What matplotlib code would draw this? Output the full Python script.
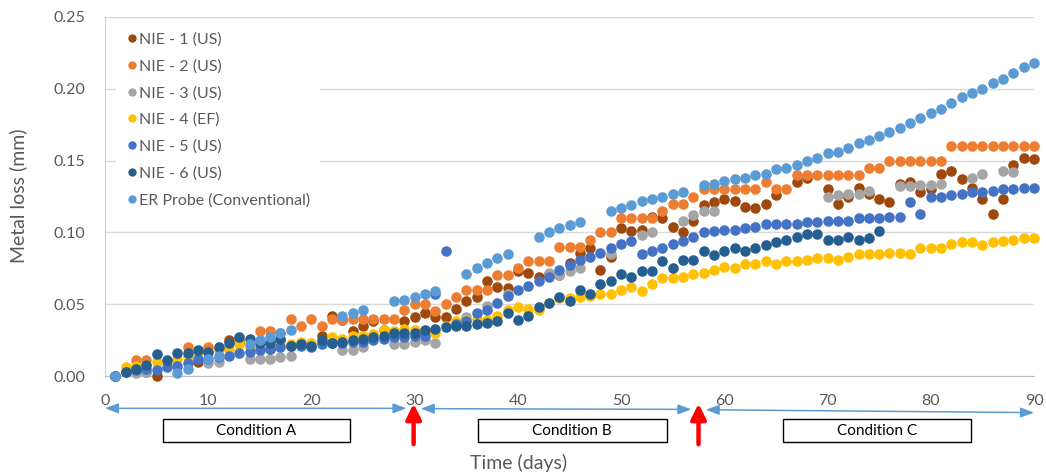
import numpy as np
import matplotlib
matplotlib.use("Agg")
import matplotlib.pyplot as plt
from matplotlib.lines import Line2D
from matplotlib.patches import Rectangle

plt.rcParams['font.family'] = ['Lato', 'DejaVu Sans']

# ---- data ----
days = list(range(1, 91))

series_names = ['NIE - 1 (US)', 'NIE - 2 (US)', 'NIE - 3 (US)', 'NIE - 4 (EF)',
                'NIE - 5 (US)', 'NIE - 6 (US)', 'ER Probe (Conventional)']
series_colors = ['#9E480E', '#ED7D31', '#A5A5A5', '#FFC000',
                 '#4472C4', '#255E91', '#5B9BD5']

nie1 = [0.000, None, 0.003, 0.003, 0.000, None, None, None, 0.010, None,
        None, 0.025, 0.024, None, None, 0.019, 0.025, None, None, None,
        0.028, 0.042, 0.039, 0.031, 0.035, 0.038, 0.032, None, 0.038, 0.041,
        0.044, 0.041, 0.041, 0.047, 0.052, 0.055, 0.066, 0.062, 0.061, 0.073,
        0.072, 0.069, 0.071, 0.070, 0.079, 0.086, 0.089, 0.074, 0.083, 0.103,
        0.101, 0.102, 0.111, 0.110, 0.104, 0.100, 0.108, 0.119, 0.121, 0.123,
        0.122, 0.118, 0.117, 0.120, 0.126, None, 0.135, 0.138, None, 0.130,
        0.120, 0.125, 0.131, 0.127, 0.123, 0.121, 0.134, 0.135, 0.128, 0.130,
        0.141, 0.143, 0.137, 0.131, 0.123, 0.113, 0.123, 0.147, 0.152, 0.151]

nie2 = [0.000, None, 0.011, 0.011, None, None, None, 0.020, None, 0.020,
        0.019, None, 0.025, None, 0.031, 0.031, 0.030, 0.040, 0.035, 0.040,
        0.035, 0.040, 0.039, 0.040, 0.040, 0.040, 0.040, 0.040, 0.046, 0.050,
        0.050, 0.045, 0.050, 0.055, 0.060, 0.060, 0.060, 0.070, 0.070, 0.075,
        0.080, 0.080, 0.080, 0.090, 0.090, 0.090, 0.095, 0.100, 0.100, 0.110,
        0.110, 0.110, 0.110, 0.115, 0.120, 0.120, 0.125, 0.130, 0.130, 0.130,
        0.130, 0.130, 0.130, 0.135, 0.130, 0.130, 0.140, 0.140, 0.140, 0.140,
        0.140, 0.140, 0.140, 0.145, 0.145, 0.150, 0.150, 0.150, 0.150, 0.150,
        0.150, 0.160, 0.160, 0.160, 0.160, 0.160, 0.160, 0.160, 0.160, 0.160]

nie3 = [0.000, None, 0.002, 0.003, None, None, None, None, None, 0.009,
        0.010, None, None, 0.012, 0.012, 0.012, 0.013, 0.014, None, None,
        None, None, 0.018, 0.018, 0.020, None, None, 0.022, 0.022, 0.024,
        0.025, 0.023, None, None, 0.041, None, 0.049, None, 0.057, None,
        None, None, 0.072, 0.070, 0.073, 0.075, None, None, 0.085, None,
        None, 0.098, 0.100, None, None, 0.108, 0.112, 0.115, 0.115, None,
        None, None, None, None, None, None, None, None, None, 0.125,
        0.126, 0.127, 0.127, 0.129, None, None, 0.132, 0.132, 0.133, 0.133,
        0.134, None, None, 0.138, 0.141, None, 0.143, 0.142, None, None]

nie4 = [0.000, 0.006, 0.007, 0.008, 0.010, 0.010, 0.012, 0.014, 0.016, 0.017,
        0.018, 0.019, 0.022, 0.020, 0.021, 0.022, 0.022, 0.022, 0.024, 0.023,
        0.024, 0.027, 0.026, 0.028, 0.028, 0.029, 0.032, 0.031, 0.033, 0.032,
        0.032, 0.030, 0.035, 0.038, 0.039, 0.040, 0.039, 0.042, 0.046, 0.048,
        0.047, 0.046, 0.051, 0.054, 0.054, 0.055, 0.056, 0.057, 0.057, 0.060,
        0.062, 0.059, 0.064, 0.068, 0.068, 0.069, 0.071, 0.072, 0.074, 0.076,
        0.075, 0.078, 0.078, 0.080, 0.078, 0.080, 0.080, 0.081, 0.082, 0.082,
        0.081, 0.083, 0.085, 0.085, 0.085, 0.086, 0.086, 0.085, 0.089, 0.089,
        0.089, 0.092, 0.093, 0.093, 0.091, 0.093, 0.094, 0.095, 0.096, 0.096]

nie5 = [0.000, 0.003, 0.004, 0.005, 0.004, 0.006, 0.007, 0.009, 0.012, 0.012,
        0.013, 0.014, 0.016, 0.017, 0.018, 0.019, 0.020, 0.021, 0.021, 0.020,
        0.022, 0.023, 0.023, 0.024, 0.024, 0.025, 0.026, 0.027, 0.027, 0.028,
        0.028, 0.057, 0.087, 0.036, 0.038, 0.044, 0.046, 0.051, 0.056, 0.060,
        0.063, 0.066, 0.069, 0.074, 0.077, 0.081, 0.083, 0.086, 0.089, 0.092,
        0.094, 0.085, 0.087, 0.089, 0.092, 0.094, 0.097, 0.100, 0.101, 0.102,
        0.102, 0.103, 0.104, 0.106, 0.106, 0.106, 0.106, 0.107, 0.107, 0.108,
        0.108, 0.108, 0.110, 0.110, 0.110, 0.111, 0.111, 0.121, 0.113, 0.125,
        0.125, 0.126, 0.127, 0.128, 0.128, 0.129, 0.130, 0.130, 0.131, 0.131]

nie6 = [0.000, 0.003, 0.005, 0.008, 0.015, 0.011, 0.016, 0.016, 0.018, 0.017,
        0.020, 0.023, 0.027, 0.026, 0.023, 0.023, 0.026, 0.021, 0.022, 0.021,
        0.025, 0.023, 0.024, 0.025, 0.026, 0.027, 0.028, 0.030, 0.030, 0.030,
        0.032, 0.033, 0.034, 0.035, 0.035, 0.036, 0.037, 0.038, 0.044, 0.039,
        0.042, 0.048, 0.051, 0.055, 0.052, 0.060, 0.057, 0.064, 0.066, 0.071,
        0.069, 0.073, 0.073, 0.080, 0.075, 0.081, 0.081, 0.087, 0.084, 0.087,
        0.089, 0.087, 0.089, 0.091, 0.093, 0.095, 0.097, 0.099, 0.099, 0.095,
        0.095, 0.097, 0.095, 0.096, 0.101, None, None, None, None, None,
        None, None, None, None, None, None, None, None, None, None]

er_probe = [0.000, None, None, None, None, None, 0.002, 0.005, None, 0.012,
            0.014, None, None, 0.022, 0.025, 0.027, 0.030, 0.032, None, None,
            None, None, 0.042, 0.044, 0.046, None, None, 0.052, 0.053, 0.055,
            0.057, 0.059, None, None, 0.071, 0.075, 0.079, 0.082, 0.085, None,
            None, 0.097, 0.100, 0.103, 0.105, 0.107, None, None, 0.115, 0.117,
            0.119, 0.122, 0.123, 0.125, 0.127, 0.128, None, 0.133, 0.134, 0.136,
            0.137, 0.138, 0.140, 0.141, 0.144, 0.145, 0.147, 0.150, 0.152, 0.155,
            0.156, 0.159, 0.162, 0.164, 0.167, 0.170, 0.173, 0.176, 0.180, 0.183,
            0.186, 0.190, 0.194, 0.197, 0.200, 0.204, 0.207, 0.211, 0.215, 0.218]

conditions = ['Condition A', 'Condition B', 'Condition C']
condition_spans = [(0, 29.9), (29.9, 57.5), (57.5, 90)]   # days
change_days = [29.9, 57.5]

# ---- figure ----
fig = plt.figure(figsize=(10.46, 4.76), dpi=100)
ax = fig.add_axes([105 / 1046, 100 / 476, 929 / 1046, 359 / 476])

all_series = [nie1, nie2, nie3, nie4, nie5, nie6, er_probe]
for i, (vals, name, col) in enumerate(zip(all_series, series_names, series_colors)):
    y = np.array(vals, dtype=float)
    ax.plot(days, y, 'o', ms=7.6, mew=0, color=col, label=name,
            zorder=3 + i, clip_on=False)

ax.set_xlim(0, 90)
ax.set_ylim(0, 0.25)
ax.set_xticks(range(0, 91, 10))
ax.set_yticks(np.arange(0, 0.251, 0.05))
ax.set_yticklabels([f'{v:.2f}' for v in np.arange(0, 0.251, 0.05)])
ax.tick_params(length=0, labelsize=11.5, labelcolor='#595959')
ax.tick_params(axis='x', pad=13)
ax.tick_params(axis='y', pad=14)

ax.yaxis.grid(True, color='#D9D9D9', lw=1)
ax.set_axisbelow(True)
for s in ['top', 'right']:
    ax.spines[s].set_visible(False)
ax.spines['left'].set_color('#D0D0D0')
ax.spines['bottom'].set_color('#BFBFBF')

# legend
handles = [Line2D([], [], ls='none', marker='o', ms=6, mew=0, color=c)
           for c in series_colors]
leg = ax.legend(handles, series_names, loc='upper left', bbox_to_anchor=(0.008, 0.993),
                fontsize=11.5, labelcolor='#595959', frameon=True, fancybox=False,
                facecolor='white', edgecolor='none', framealpha=1,
                handlelength=0.8, handletextpad=0.08, labelspacing=0.78,
                borderaxespad=0.2, borderpad=0.6)
leg.set_zorder(20)

# axis titles
fig.text(519 / 1046, 1 - 463 / 476, 'Time (days)', ha='center', va='center',
         fontsize=14, color='#595959')
fig.text(18 / 1046, 1 - 196 / 476, 'Metal loss (mm)', ha='center', va='center',
         rotation=90, fontsize=14, color='#595959')

# condition spans below the axis
tr = ax.get_xaxis_transform()
arrow_y = [(-0.090, -0.090), (-0.091, -0.093), (-0.094, -0.102)]
gap = 0.7
for (x0, x1), (y0, y1) in zip(condition_spans, arrow_y):
    ax.annotate('', xy=(x1 - gap if x1 < 90 else x1, y1), xycoords=tr,
                xytext=(x0 + gap if x0 > 0 else x0, y0), textcoords=tr,
                arrowprops=dict(arrowstyle='<|-|>,head_length=0.8,head_width=0.3',
                                color='#5B9BD5', lw=1.1, shrinkA=0, shrinkB=0),
                annotation_clip=False)

box_spans = [(5.6, 23.7), (36.1, 54.4), (65.7, 83.9)]
for (b0, b1), label in zip(box_spans, conditions):
    ax.add_patch(Rectangle((b0, -0.184), b1 - b0, 0.064, transform=tr,
                           facecolor='white', edgecolor='black', lw=1,
                           clip_on=False))
    ax.text((b0 + b1) / 2, -0.152, label, transform=tr, ha='center',
            va='center', fontsize=11, color='black')

for d in change_days:
    ax.annotate('', xy=(d, -0.077), xycoords=tr, xytext=(d, -0.190), textcoords=tr,
                arrowprops=dict(arrowstyle='-|>,head_length=0.9,head_width=0.45',
                                color='#FF0000', lw=3.2, shrinkA=0, shrinkB=0),
                annotation_clip=False)

fig.savefig('out.png', dpi=100)
